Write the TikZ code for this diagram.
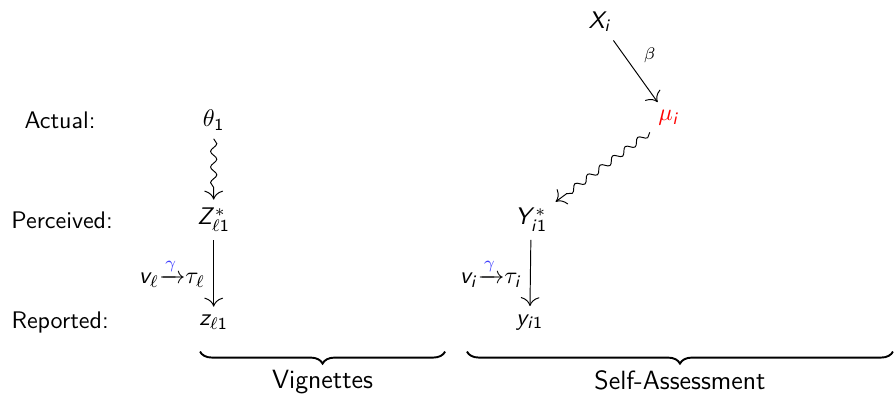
\documentclass[tikz,border=0pt]{standalone}
\usepackage{amsmath}
\usepackage{amssymb}
\usepackage{xcolor}
\usepackage{tikz}
\usetikzlibrary{cd, decorations.pathmorphing, decorations.pathreplacing}
\renewcommand{\familydefault}{\sfdefault}
% sans letters and digits in math, greek stays as is
\DeclareSymbolFont{sfops}{OT1}{cmss}{m}{n}
\DeclareSymbolFont{sfit}{OT1}{cmss}{m}{sl}
\DeclareMathSymbol{X}{\mathalpha}{sfit}{`X}
\DeclareMathSymbol{Y}{\mathalpha}{sfit}{`Y}
\DeclareMathSymbol{Z}{\mathalpha}{sfit}{`Z}
\DeclareMathSymbol{v}{\mathalpha}{sfit}{`v}
\DeclareMathSymbol{y}{\mathalpha}{sfit}{`y}
\DeclareMathSymbol{z}{\mathalpha}{sfit}{`z}
\DeclareMathSymbol{i}{\mathalpha}{sfit}{`i}
\DeclareMathSymbol{1}{\mathalpha}{sfops}{`1}
\newcommand{\gammaarrow}{{\xrightarrow{\textcolor{blue!75}{\gamma}}}}
\tikzset{
  squig/.style={decorate, decoration={snake, amplitude=1.3pt, segment length=6.5pt, post length=1.5mm}},
  grp/.style={decorate, decoration={brace, mirror, amplitude=5pt}, thick},
  grplabel/.style={font=\fontsize{11}{13}\selectfont}
}

\begin{document}
\begin{tikzpicture}[>={cm to[scale=1.5]}, font=\normalsize]
            \useasboundingbox (0,0) rectangle (13.11,5.77);

            \node (actual) at (0.88,4.01) {Actual:};
            \node (perceived) at (0.91,2.55) {Perceived:};
            \node (reported) at (0.88,1.05) {Reported:};

            \node (theta) at (3.13,4.01) {$\theta_1$};
            \node (zstar) at (3.13,2.55) {$Z^{*}_{\ell 1}$};
            \node (zobs) at (3.13,1.05) {$z_{\ell 1}$};
            \draw[->, squig] (theta) -- (zstar);
            \draw[->] (zstar) -- (zobs) node[midway, left] {$v_\ell\gammaarrow\tau_\ell$};

            \node (xi) at (8.79,5.45) {$X_i$};
            \node (mu) at (9.80,4.04) {$\textcolor{red}{\mu_i}$};
            \node (ystar) at (7.78,2.55) {$Y^{*}_{i1}$};
            \node (yobs) at (7.76,1.05) {$y_{i1}$};
            \draw[->] (xi) -- (mu) node[midway, above right, font=\scriptsize] {$\beta$};
            \draw[->, squig] (mu) -- (ystar);
            \draw[->] (ystar) -- (yobs) node[midway, left] {$v_i\gammaarrow\tau_i$};

            \coordinate (vigL) at (2.93,0.62);
            \coordinate (vigR) at (6.52,0.62);
            \coordinate (selfL) at (6.84,0.62);
            \coordinate (selfR) at (13.08,0.62);
            \draw[grp] (vigL) -- (vigR) node[midway, below=4pt, grplabel] (vig) {Vignettes};
            \draw[grp] (selfL) -- (selfR) node[midway, below=4pt, grplabel] (self) {Self-Assessment};
        \end{tikzpicture}
\end{document}
